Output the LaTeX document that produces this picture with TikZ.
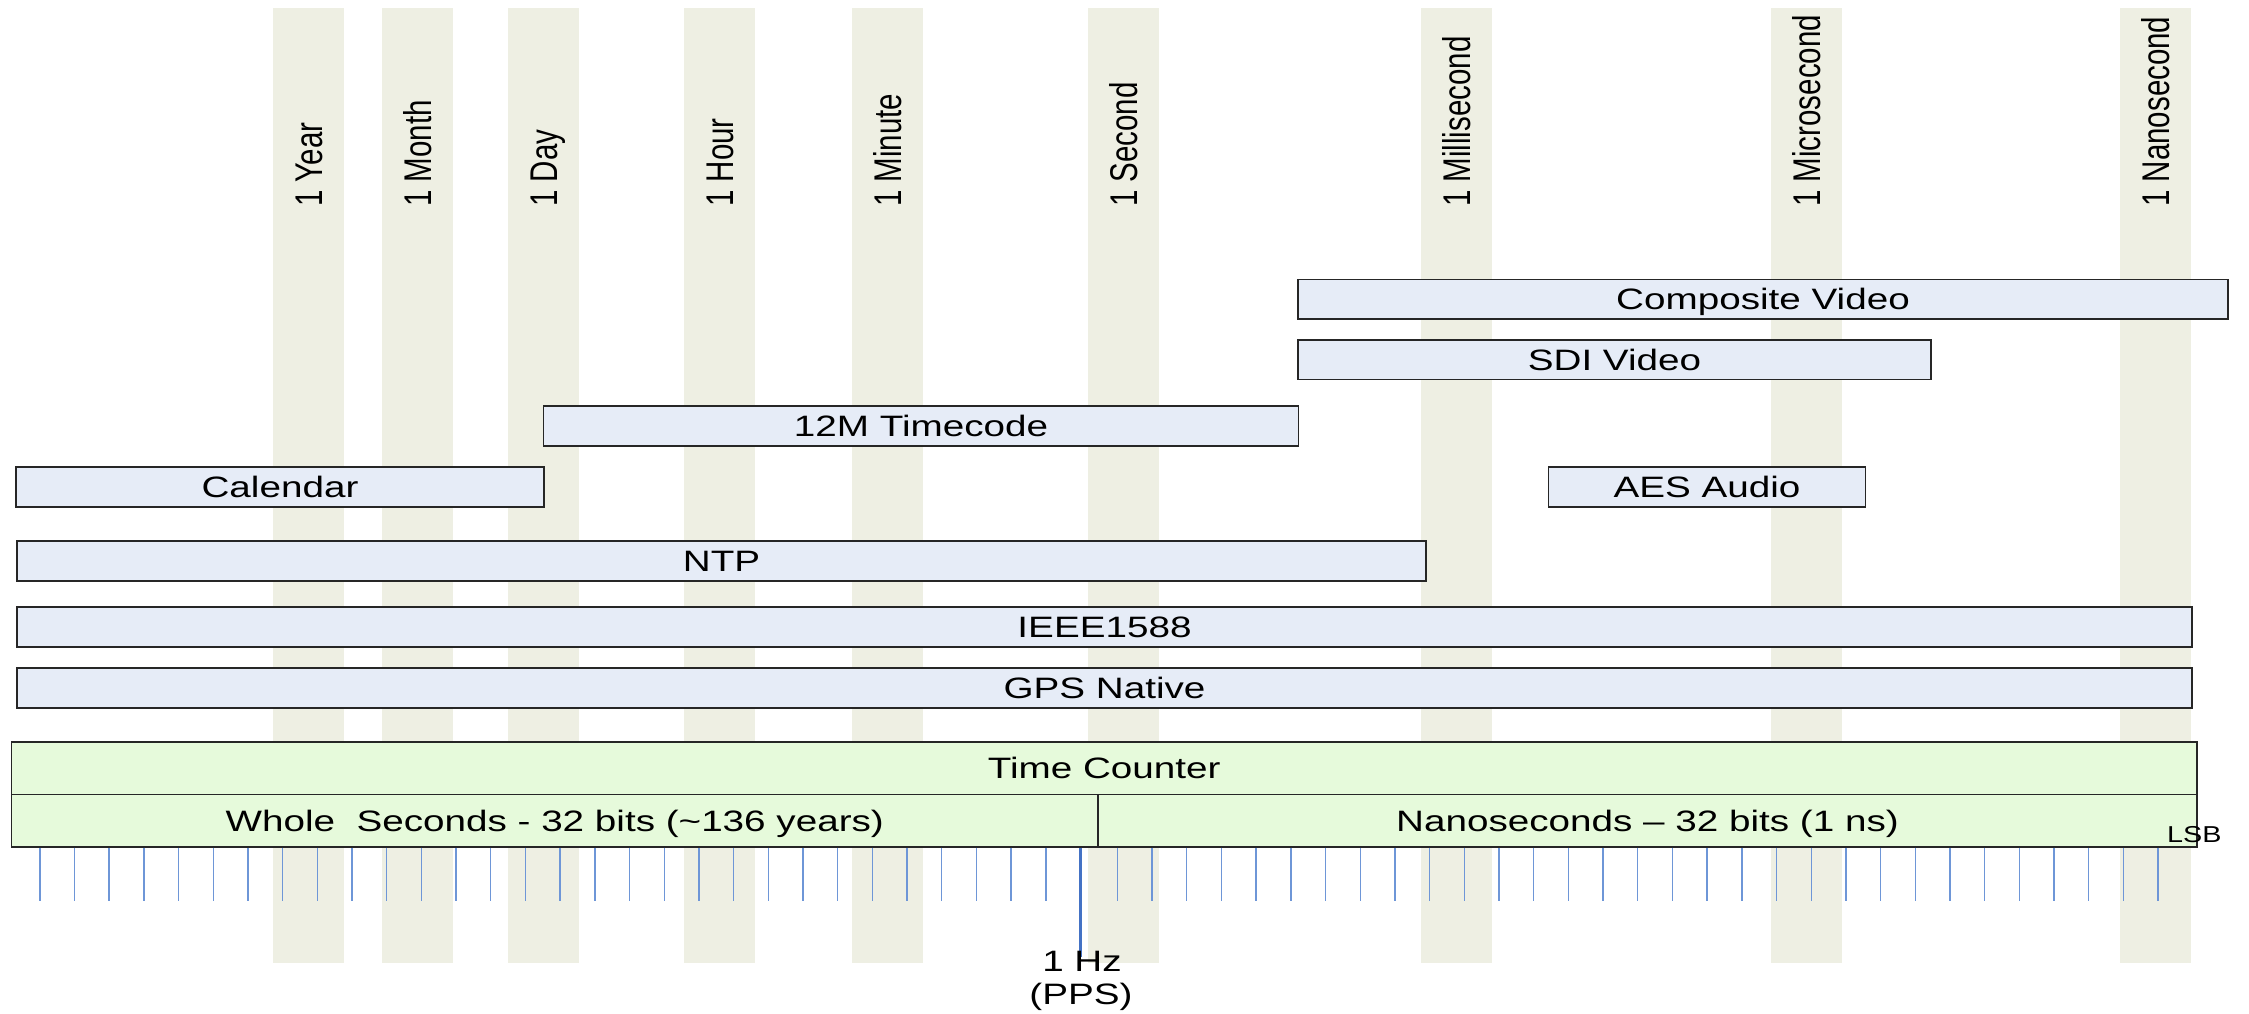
\documentclass[tikz,border=0pt]{standalone}
\usepackage{fontspec}
\setmainfont{Liberation Sans}
\usepackage{graphicx}
\definecolor{stripe}{RGB}{238,239,227}
\definecolor{boxblue}{RGB}{230,236,247}
\definecolor{boxgreen}{RGB}{230,250,219}
\definecolor{tickblue}{RGB}{110,150,215}
\definecolor{ppsblue}{RGB}{68,114,196}
\newcommand{\hs}[1]{\scalebox{1.31}[1]{#1}}
\newcommand{\vs}[1]{\scalebox{1}[1.31]{#1}}
\begin{document}
\begin{tikzpicture}[x=1pt,y=-1pt,
  lab/.style={font=\fontsize{29.5}{35}\selectfont, text=black},
  bar/.style={lab, draw=black!85, line width=1.3pt, fill=boxblue, inner sep=0pt, outer sep=0pt,
              anchor=north west, text height=21pt, text depth=0pt},
  cnt/.style={bar, fill=boxgreen},
  collab/.style={lab, rotate=90, anchor=base west, inner sep=0pt},
  tickmark/.style={draw=tickblue, line width=1.4pt},
  ppsmark/.style={draw=ppsblue, line width=3.2pt},
]
\useasboundingbox (0,0) rectangle (2249,1013);
% vertical bands with their labels
\foreach \a/\t [count=\i] in {273/1 Year, 382/1 Month, 508/1 Day, 684/1 Hour, 852/1 Minute,
    1088/1 Second, 1421/1 Millisecond, 1771/1 Microsecond, 2120/1 Nanosecond}{
  \fill[stripe] (\a,8) rectangle ++(71,955);
  \node[collab] (col\i) at (\a+49.3,207) {\vs{\t}};
}
% bars
\node[bar, minimum width=930, minimum height=39.5] (cv) at (1298,279.5) {\hs{Composite Video}};
\node[bar, minimum width=633, minimum height=39.5] (sdi) at (1298,340) {\hs{SDI Video}};
\node[bar, minimum width=755, minimum height=40] (tcode) at (543.5,406) {\hs{12M Timecode}};
\node[bar, minimum width=528, minimum height=40] (cal) at (16,467) {\hs{Calendar}};
\node[bar, minimum width=317, minimum height=40] (aes) at (1548.5,467) {\hs{AES Audio}};
\node[bar, minimum width=1409, minimum height=40] (ntp) at (17,541) {\hs{NTP}};
\node[bar, minimum width=2175, minimum height=40] (ieee) at (17,607) {\hs{IEEE1588}};
\node[bar, minimum width=2175, minimum height=40] (gps) at (17,668) {\hs{GPS Native}};
% time counter
\node[cnt, minimum width=2185.5, minimum height=52.5] (tcount) at (11.5,742) {\hs{Time Counter}};
\node[cnt, minimum width=1086.5, minimum height=52.5] (ws) at (11.5,794.5) {\hs{Whole\ \ Seconds - 32 bits (\textasciitilde 136 years)}};
\node[cnt, minimum width=1099, minimum height=52.5] (nsec) at (1098,794.5) {\hs{Nanoseconds – 32 bits (1 ns)}};
% bit ticks
\foreach \i in {0,...,29}{
  \draw[tickmark] (39.8+34.69*\i,847.5) -- (39.8+34.69*\i,901);
}
\foreach \i in {0,...,30}{
  \draw[tickmark] (1117.4+34.69*\i,847.5) -- (1117.4+34.69*\i,901);
}
\coordinate (ppstop) at (1080.6,847.5);
\coordinate (ppsend) at (1080.6,957);
\draw[ppsmark] (ppstop) -- (ppsend);
% labels
\node[lab, anchor=base, inner sep=0pt] (hz1) at (1082,971.7) {\hs{1 Hz}};
\node[lab, anchor=base, inner sep=0pt] (hz2) at (1081,1004) {\hs{(PPS)}};
\node[font=\fontsize{23}{27}\selectfont, anchor=base west, inner sep=0pt] (lsb) at (2167,842.7) {\scalebox{1.25}[1]{LSB}};
\end{tikzpicture}
\end{document}
